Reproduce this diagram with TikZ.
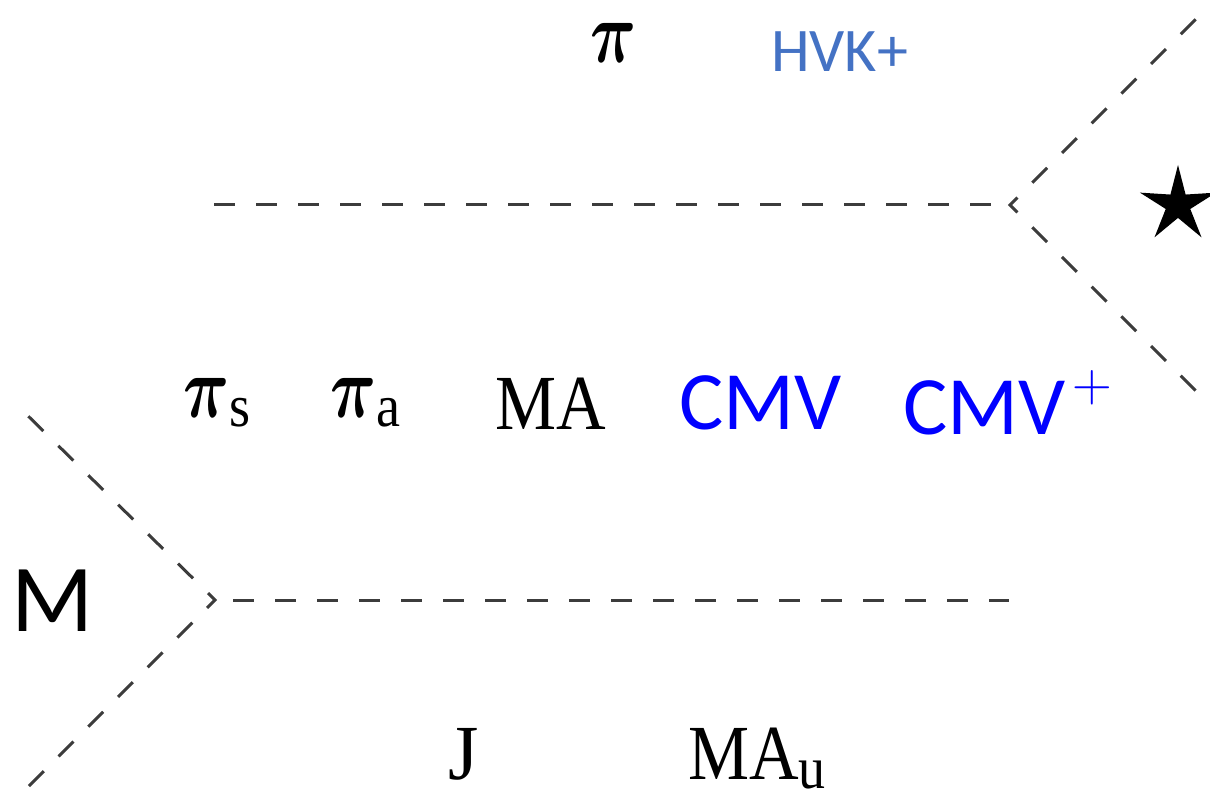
\documentclass[tikz,border=0pt]{standalone}
\usepackage{amsmath}
\usepackage{graphicx}
\usepackage{fontspec}
\setmainfont{Liberation Serif}
\newfontfamily\carl{Carlito}
\newfontfamily\lmr{Latin Modern Roman}
\usetikzlibrary{shapes.geometric}
\definecolor{hvkblue}{HTML}{4472C4}
\definecolor{cmvblue}{RGB}{0,0,255}
\definecolor{linegray}{HTML}{3C3C3C}
\tikzset{
  dline/.style={draw=linegray, line width=3pt, dash pattern=on 21pt off 21pt},
  lbl/.style={inner sep=0pt, anchor=base west},
  serifbig/.style={font=\fontsize{78}{80}\selectfont},
  sansbig/.style={font=\carl\fontsize{83}{85}\selectfont, text=cmvblue},
}
\newcommand{\lowsub}[1]{\raisebox{-9pt}{\scalebox{0.9}[1]{\fontsize{60}{62}\selectfont #1}}}
\newcommand{\bigpi}{\scalebox{6.4}[8.8]{\normalsize$\boldsymbol{\pi}$}}
\newcommand{\narrow}[1]{\scalebox{0.88}[1]{#1}}
\begin{document}
\begin{tikzpicture}[x=1pt,y=1pt]
\useasboundingbox (0,0) rectangle (1210,797);
% top-right fork
\coordinate (tr1) at (1202,784);
\coordinate (trv) at (1010,592);
\coordinate (tr2) at (1202,400);
\coordinate (th1) at (214,592);
\coordinate (th2) at (991,592);
% bottom-left fork
\coordinate (bl1) at (22,387);
\coordinate (blv) at (215,197);
\coordinate (bl2) at (22,4);
\coordinate (bh1) at (233,196);
\coordinate (bh2) at (1009,196);

\draw[dline, dash phase=33pt] (tr1) -- (trv) -- (tr2);
\draw[dline] (th1) -- (th2);
\draw[dline, dash phase=33pt] (bl1) -- (blv) -- (bl2);
\draw[dline] (bh1) -- (bh2);

% labels
\node[lbl] (pi) at (590,734) {\bigpi};
\node[lbl, font=\carl\fontsize{62}{64}\selectfont, text=hvkblue] (hvk) at (771,725) {HVK+};
\node[lbl, serifbig] (pis) at (183,379) {\bigpi\lowsub{s}};
\node[lbl, serifbig] (pia) at (330,379) {\bigpi\lowsub{a}};
\node[lbl, serifbig] (ma) at (495,367) {\narrow{MA}};
\node[lbl, sansbig] (cmv) at (679,367) {CMV};
\node[lbl, sansbig] (cmvp) at (903,362) {CMV\hspace{7pt}\raisebox{33pt}{\lmr\fontsize{55}{57}\selectfont +}};
\node[lbl, font=\carl\fontsize{96}{98}\selectfont] (m) at (11,165) {M};
\node[lbl, serifbig] (j) at (448,17) {J};
\node[lbl, serifbig] (mau) at (688,17) {\narrow{MA}\lowsub{u}};
\node[star, star points=5, star point ratio=3.1, minimum size=80pt, inner sep=0pt, fill=black] (star) at (1178,592) {};
\end{tikzpicture}
\end{document}
